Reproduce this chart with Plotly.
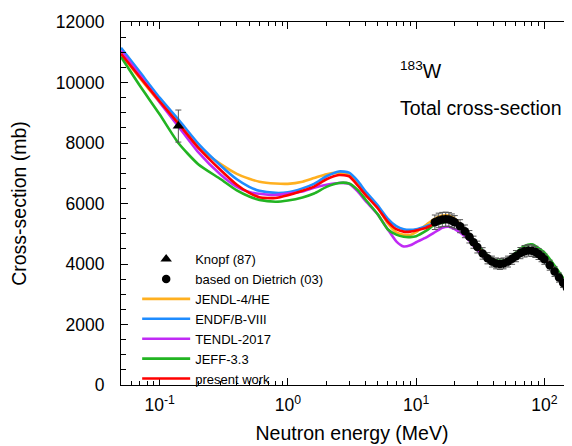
import plotly.graph_objects as go

# ---------------- data ----------------
energy_eval = [0.05, 0.07, 0.1, 0.14, 0.2, 0.3, 0.4, 0.5, 0.6, 0.8, 1.0, 1.3, 1.6, 2.0, 2.5,
               3.0, 3.5, 4, 5, 6, 7, 8, 9, 10, 12, 14, 16, 18, 20, 25, 30, 40, 50, 60, 70,
               80, 100, 120, 150, 200]

jendl = [10950, 10150, 9350, 8650, 7850, 7300, 6980, 6820, 6720, 6660, 6650, 6720, 6840, 6970, 7010,
         6950, 6650, 6350, 5880, 5350, 5050, 4970, 4960, 5050, 5300, 5500, 5600, 5600, 5500, 5020,
         4580, 4070, 4020, 4250, 4420, 4440, 4160, 3750, 3210, 2600]

endf = [11150, 10350, 9500, 8780, 7980, 7250, 6800, 6550, 6420, 6350, 6370, 6500, 6650, 6900, 7060,
        7020, 6750, 6420, 5950, 5500, 5250, 5150, 5130, 5150, 5250, 5350, 5440, 5470, 5420, 5000,
        4560, 4060, 4010, 4230, 4400, 4420, 4130, 3720, 3180, 2560]

tendl = [11050, 10250, 9350, 8550, 7700, 6950, 6550, 6380, 6320, 6280, 6330, 6400, 6520, 6620, 6680,
         6650, 6400, 6100, 5650, 5150, 4750, 4580, 4620, 4720, 4880, 5050, 5200, 5230, 5150, 4850,
         4450, 4020, 4000, 4230, 4410, 4430, 4160, 3750, 3210, 2600]

jeff = [10850, 9900, 8950, 8000, 7300, 6800, 6430, 6230, 6120, 6060, 6100, 6200, 6330, 6550, 6680,
        6660, 6450, 6150, 5650, 5150, 4970, 4900, 4890, 4920, 5100, 5300, 5360, 5420, 5400, 5050,
        4620, 4140, 4120, 4380, 4600, 4650, 4380, 3950, 3350, 2700]

present = [10950, 10180, 9380, 8650, 7850, 7100, 6620, 6350, 6210, 6180, 6270, 6420, 6560, 6800, 6940,
           6900, 6600, 6300, 5850, 5400, 5150, 5070, 5070, 5110, 5200, 5340, 5430, 5470, 5420, 5000,
           4560, 4060, 4020, 4250, 4420, 4440, 4170, 3760, 3220, 2620]

knopf_e = [0.14]
knopf_xs = [8560]
knopf_err = [530]

dietrich_e = [14, 15, 16, 17, 18, 19, 20, 22, 24, 26, 28, 30, 33, 36, 39, 42, 45, 48, 52, 56,
              60, 65, 70, 75, 80, 85, 90, 95, 100, 110, 120, 130, 140, 150, 160, 170, 180, 190, 200]
dietrich_xs = [5380, 5440, 5470, 5480, 5470, 5430, 5380, 5250, 5080, 4900, 4720, 4560, 4350, 4190,
               4080, 4020, 4000, 4020, 4080, 4170, 4260, 4360, 4420, 4450, 4440, 4400, 4330, 4250,
               4160, 3960, 3750, 3550, 3370, 3210, 3070, 2940, 2820, 2710, 2610]
dietrich_err = [240, 240, 235, 235, 230, 225, 220, 215, 210, 205, 200, 195, 190, 185,
                180, 180, 180, 180, 180, 180, 185, 185, 190, 190, 190, 185, 180, 175,
                170, 165, 160, 150, 145, 140, 135, 130, 125, 120, 120]

eval_names = ["JENDL-4/HE", "ENDF/B-VIII", "TENDL-2017", "JEFF-3.3", "present work"]
eval_series = [jendl, endf, tendl, jeff, present]
eval_colors = ["#FFB020", "#1E8CFF", "#C02AF5", "#22B422", "#FF0000"]

x_tickvals = [0.1, 1, 10, 100]
x_ticktext = ["10<sup>-1</sup>", "10<sup>0</sup>", "10<sup>1</sup>", "10<sup>2</sup>"]
x_minor = [m * 10 ** d for d in range(-2, 3) for m in range(2, 10)]

FONT = "Liberation Sans, Arial, sans-serif"

fig = go.Figure()

for i, (name, ys, col) in enumerate(zip(eval_names, eval_series, eval_colors)):
    fig.add_trace(go.Scatter(
        x=energy_eval, y=ys, mode="lines", name=name,
        line=dict(color=col, width=2.6, shape="spline", smoothing=0.6),
        legendrank=10 + i,
    ))

fig.add_trace(go.Scatter(
    x=knopf_e, y=knopf_xs, mode="markers", name="Knopf (87)",
    marker=dict(symbol="triangle-up", color="black", size=10),
    error_y=dict(type="data", array=knopf_err, color="#555555", thickness=1, width=3),
    legendrank=1,
))
fig.add_trace(go.Scatter(
    x=dietrich_e, y=dietrich_xs, mode="markers", name="based on Dietrich (03)",
    marker=dict(symbol="circle", color="black", size=8.5),
    error_y=dict(type="data", array=dietrich_err, color="#555555", thickness=1, width=3),
    legendrank=2,
))

fig.add_annotation(x=0.600, y=0.868, xref="paper", yref="paper", xanchor="left", yanchor="middle",
                   text="<sup>183</sup>W", showarrow=False, font=dict(family=FONT, size=19.5, color="black"))
fig.add_annotation(x=0.600, y=0.763, xref="paper", yref="paper", xanchor="left", yanchor="middle",
                   text="Total cross-section", showarrow=False, font=dict(family=FONT, size=19.5, color="black"))

fig.update_layout(
    width=575, height=446,
    margin=dict(l=113, r=0, t=14, b=69),
    paper_bgcolor="white", plot_bgcolor="white",
    font=dict(family=FONT, color="black"),
    showlegend=True,
    legend=dict(x=0.035, y=0.388, xanchor="left", yanchor="top", bgcolor="rgba(0,0,0,0)",
                itemwidth=48,
                font=dict(family=FONT, size=13, color="black"), tracegroupgap=0),
)

fig.update_xaxes(
    type="log", range=[-1.301, 2.301],
    tickmode="array", tickvals=x_tickvals, ticktext=x_ticktext,
    ticks="inside", ticklen=7, tickwidth=1, tickcolor="black",
    minor=dict(tickmode="array", tickvals=x_minor, ticks="inside", ticklen=4, tickcolor="black"),
    showline=True, linecolor="black", linewidth=1.2, mirror="ticks",
    showgrid=False, zeroline=False,
    tickfont=dict(family=FONT, size=17.5, color="black"), ticklabelstandoff=4,
    title=dict(text="Neutron energy (MeV)", font=dict(family=FONT, size=19.5, color="black"), standoff=12),
)
fig.update_yaxes(
    range=[0, 12000], dtick=2000, tickformat="d",
    ticks="inside", ticklen=7, tickwidth=1, tickcolor="black",
    minor=dict(dtick=500, ticks="inside", ticklen=5, tickcolor="black"),
    showline=True, linecolor="black", linewidth=1.2, mirror=False,
    showgrid=False, zeroline=False,
    tickfont=dict(family=FONT, size=17.5, color="black"), ticklabelstandoff=12,
    title=dict(text="Cross-section (mb)", font=dict(family=FONT, size=19.5, color="black"), standoff=24),
)

fig.write_html("out.html")
